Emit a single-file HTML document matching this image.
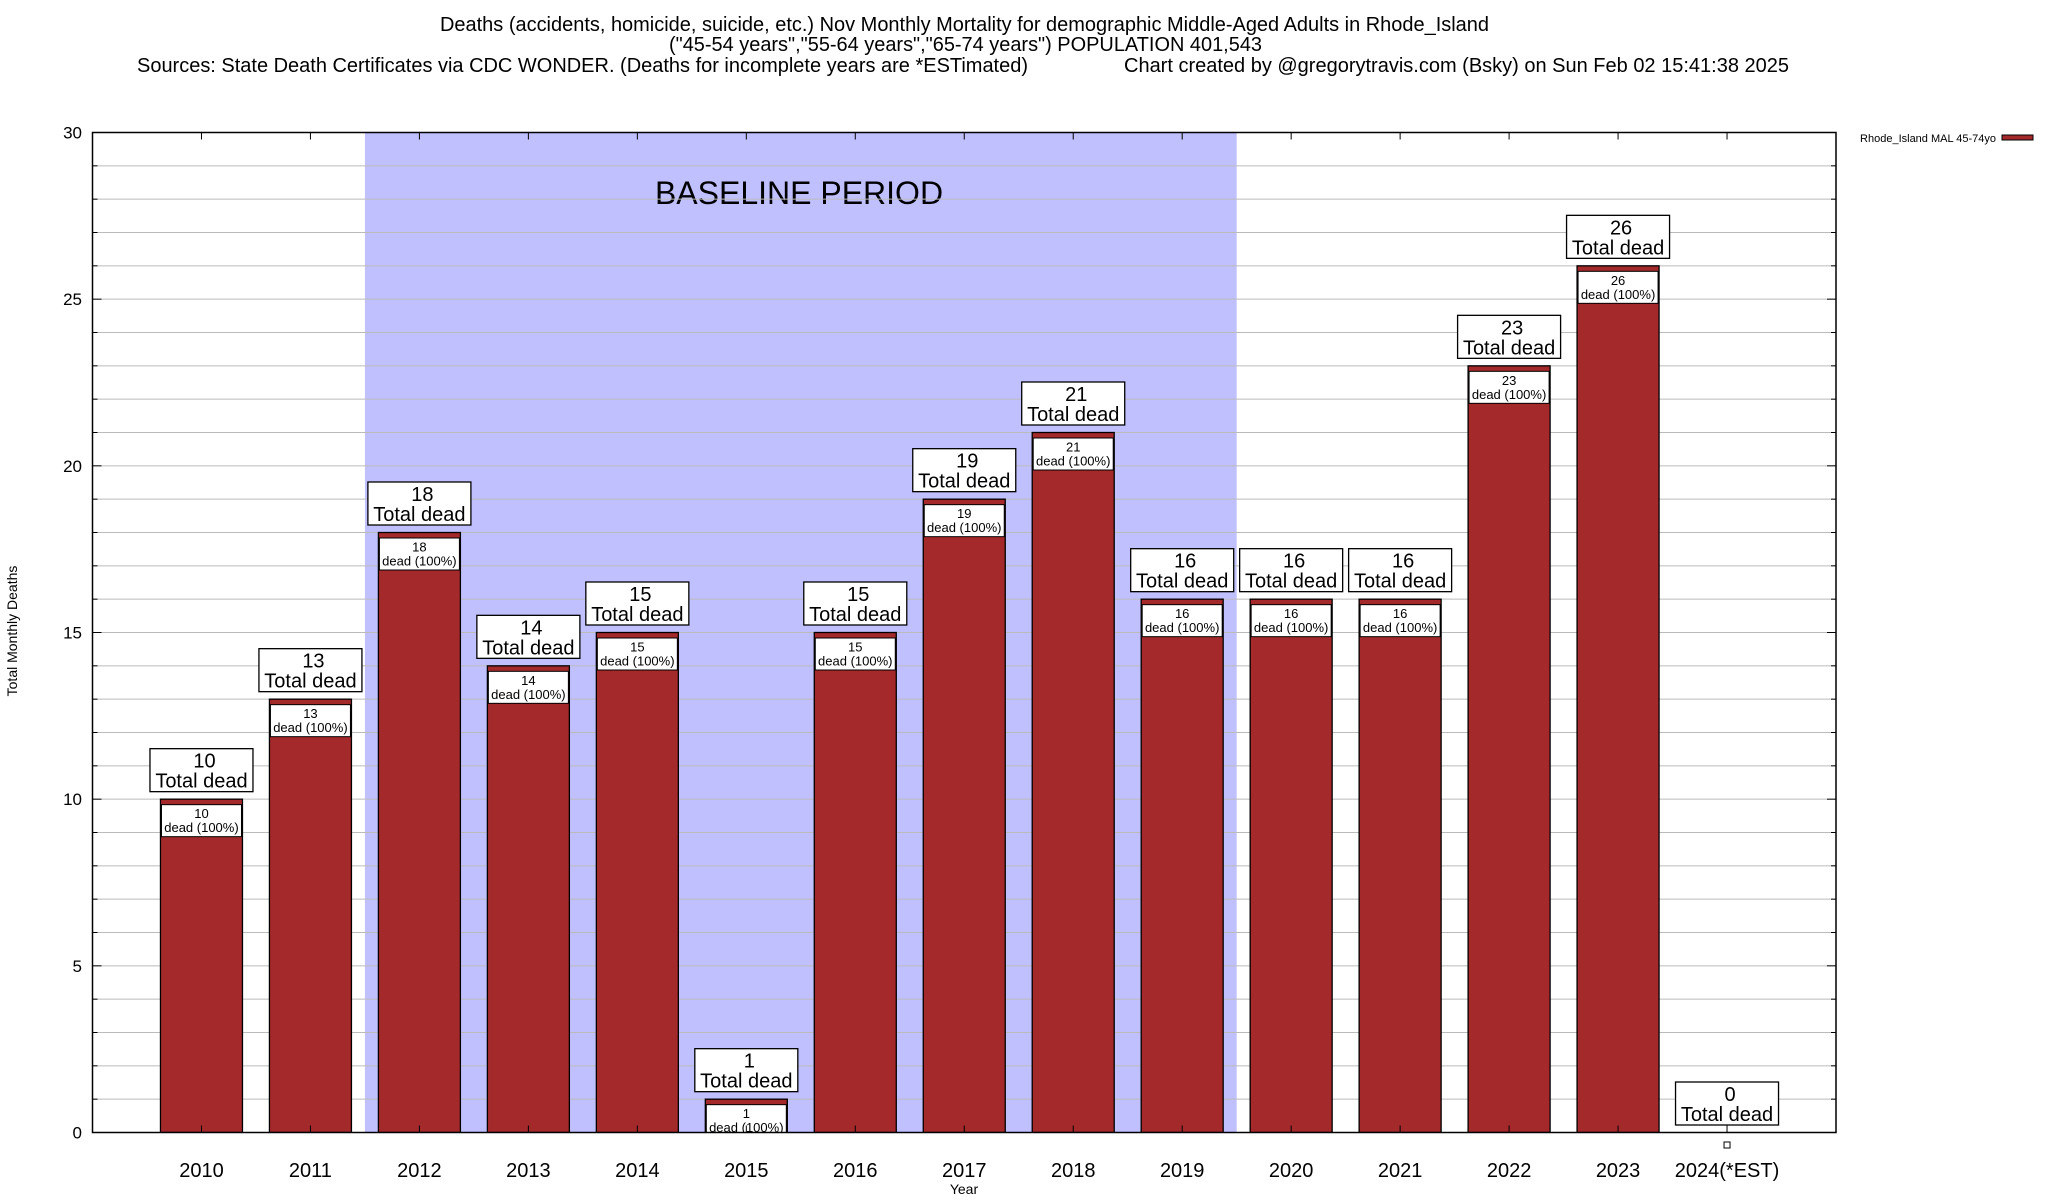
<!DOCTYPE html>
<html><head><meta charset="utf-8"><style>
html,body{margin:0;padding:0;background:#fff}
svg{display:block;font-family:"Liberation Sans",sans-serif}
</style></head><body>
<svg id="chart" width="2048" height="1200" viewBox="0 0 2048 1200" xmlns="http://www.w3.org/2000/svg">
<defs><clipPath id="pc"><rect x="92.5" y="132.5" width="1743.5" height="1000"/></clipPath></defs>
<g>
<text x="440" y="31" font-size="20" textLength="1049" lengthAdjust="spacingAndGlyphs">Deaths (accidents, homicide, suicide, etc.) Nov Monthly Mortality for demographic Middle-Aged Adults in Rhode_Island</text>
<text x="669" y="51" font-size="20" textLength="593" lengthAdjust="spacingAndGlyphs">("45-54 years","55-64 years","65-74 years") POPULATION 401,543</text>
<text x="137" y="72" font-size="20" textLength="891" lengthAdjust="spacingAndGlyphs">Sources: State Death Certificates via CDC WONDER. (Deaths for incomplete years are *ESTimated)</text>
<text x="1124" y="72" font-size="20" textLength="665" lengthAdjust="spacingAndGlyphs">Chart created by @gregorytravis.com (Bsky) on Sun Feb 02 15:41:38 2025</text>
</g>
<g id="plot"></g>
<text x="17" y="631" font-size="14" text-anchor="middle" transform="rotate(-90 17 631)">Total Monthly Deaths</text>
<text x="964" y="1194" font-size="14" text-anchor="middle">Year</text>
<g>
<text x="1996" y="142" font-size="11" text-anchor="end">Rhode_Island MAL 45-74yo</text>
<rect x="2002" y="135" width="31" height="5" fill="#a4292b" stroke="#000" stroke-width="1"/>
</g>
</svg>
<script>
const categories = ["2010","2011","2012","2013","2014","2015","2016","2017","2018","2019","2020","2021","2022","2023","2024(*EST)"];
const deaths = [10,13,18,14,15,1,15,19,21,16,16,16,23,26,0];
const yTicks = [0,5,10,15,20,25,30];
const baselineStart = 1.5, baselineEnd = 9.5;

const NS = "http://www.w3.org/2000/svg";
const plot = document.getElementById("plot");
const L = 92.5, R = 1836, T = 132.5, B = 1132.5;
const xMin = -1, xMax = 15, yMax = 30;
const xs = i => L + (i - xMin) / (xMax - xMin) * (R - L);
const ys = v => B - v / yMax * (B - T);
const bw = 82;
function mk(tag, attrs, parent) {
  const e = document.createElementNS(NS, tag);
  for (const k in attrs) e.setAttribute(k, attrs[k]);
  (parent || plot).appendChild(e);
  return e;
}
const shade = mk("rect", {x: xs(baselineStart), y: T, width: xs(baselineEnd) - xs(baselineStart), height: B - T, fill: "#c0c0ff"});


const bt = mk("text", {x: 799, y: 204, "font-size": 32, "text-anchor": "middle"});
bt.textContent = "BASELINE PERIOD";


for (let v = 1; v < yMax; v++) {
  const g = mk("line", {x1: L, x2: R, y1: ys(v), y2: ys(v), stroke: "#bbb", "stroke-width": 1});
  
  
  const tl = v % 5 === 0 ? 9 : 5;
  mk("line", {x1: L, x2: L + tl, y1: ys(v), y2: ys(v), stroke: "#000"});
  mk("line", {x1: R, x2: R - tl, y1: ys(v), y2: ys(v), stroke: "#000"});
}
yTicks.forEach(v => {
  const t = mk("text", {x: 82, y: ys(v) + 6, "font-size": 17, "text-anchor": "end"});
  t.textContent = v;
  
  
});
const clipG = mk("g", {"clip-path": "url(#pc)"});
categories.forEach((c, i) => {
  const cx = xs(i), v = deaths[i];
  mk("line", {x1: cx, x2: cx, y1: T, y2: T + 7, stroke: "#000"});
  mk("line", {x1: cx, x2: cx, y1: B, y2: B - 7, stroke: "#000"});
  const xl = mk("text", {x: cx, y: 1177, "font-size": 20, "text-anchor": "middle"});
  xl.textContent = c;
  
  
  const top = ys(v);
  if (v > 0) {
    const bar = mk("rect", {x: cx - bw / 2, y: top, width: bw, height: B - top, fill: "#a4292b", stroke: "#000", "stroke-width": 1.3}, clipG);
    
    
    const ib = mk("rect", {x: cx - bw / 2 + 1, y: top + 5.5, width: bw - 2, height: 32, fill: "#fff", stroke: "#000", "stroke-width": 1}, clipG);
    
    
    const t1 = mk("text", {x: cx, y: top + 19, "font-size": 13, "text-anchor": "middle"}, clipG);
    t1.textContent = v;
    const t2 = mk("text", {x: cx, y: top + 33, "font-size": 13, "text-anchor": "middle"}, clipG);
    t2.textContent = "dead (100%)";
  } else {
    const m = mk("rect", {x: cx - 3, y: 1142, width: 6, height: 6, fill: "#fff", stroke: "#000", "stroke-width": 1});
    
    
  }
  const bb = top - 7.5;
  const box = mk("rect", {x: cx - 51.5, y: bb - 43, width: 103, height: 43, fill: "#fff", stroke: "#000", "stroke-width": 1.3});
  
  
  const a = mk("text", {x: cx + 3, y: bb - 24, "font-size": 20, "text-anchor": "middle"});
  a.textContent = v;
  const b = mk("text", {x: cx, y: bb - 4, "font-size": 20, "text-anchor": "middle"});
  b.textContent = "Total dead";
});
const frame = mk("rect", {x: L, y: T, width: R - L, height: B - T, fill: "none", stroke: "#000", "stroke-width": 1.5});


</script>
</body></html>
